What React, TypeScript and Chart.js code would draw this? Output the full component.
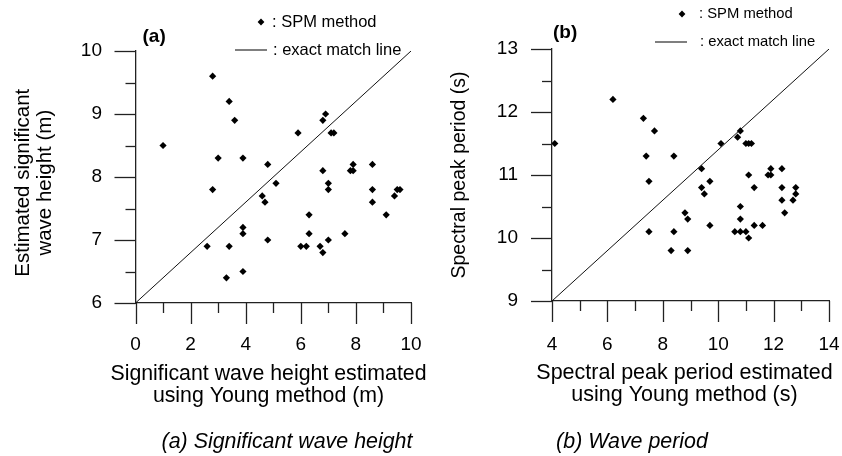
import React, { useEffect, useRef } from 'react';
import { Chart, registerables } from 'chart.js';

Chart.register(...registerables);

const FONT = '"Liberation Sans", Arial, Helvetica, sans-serif';

// Panel (a): significant wave height
const heightYoung = [1.0, 2.8, 3.4, 3.6, 3.0, 3.9, 2.8, 4.8, 5.1, 4.6, 4.7, 2.6, 3.4, 3.9, 3.9, 3.3, 3.9, 4.8, 5.9, 6.3, 6.3, 6.0, 6.2, 6.7, 6.8, 7.0, 6.8, 7.0, 7.0, 6.9, 6.8, 7.1, 7.2, 7.9, 7.8, 7.9, 8.6, 8.6, 8.6, 9.5, 9.6, 9.4, 9.1, 7.6];
const heightSPM = [8.5, 9.6, 9.2, 8.9, 8.3, 8.3, 7.8, 8.2, 7.9, 7.7, 7.6, 6.9, 6.9, 7.2, 7.1, 6.4, 6.5, 7.0, 8.7, 7.4, 7.1, 6.9, 6.9, 6.9, 6.8, 7.0, 8.1, 7.9, 7.8, 9.0, 8.9, 8.7, 8.7, 8.2, 8.1, 8.1, 8.2, 7.8, 7.6, 7.8, 7.8, 7.7, 7.4, 7.1];
const heightLineX = [0, 10];
const heightLineY = [6, 10];

// Panel (b): spectral peak period
const periodYoung = [4.1, 6.2, 7.3, 7.7, 7.4, 8.4, 7.5, 7.5, 8.4, 8.3, 8.9, 8.8, 8.9, 9.4, 9.4, 9.5, 9.7, 9.7, 10.1, 10.7, 10.8, 11.0, 11.1, 11.2, 11.1, 11.3, 10.8, 10.8, 10.6, 10.8, 11.0, 11.1, 11.3, 11.6, 11.8, 11.9, 11.9, 12.3, 12.3, 12.3, 12.4, 12.7, 12.8, 12.8];
const periodSPM = [11.5, 12.2, 11.9, 11.7, 11.3, 11.3, 10.9, 10.1, 10.1, 9.8, 9.8, 10.4, 10.3, 11.1, 10.8, 10.7, 10.9, 10.2, 11.5, 11.6, 11.7, 11.5, 11.5, 11.5, 11.0, 10.8, 10.5, 10.3, 10.1, 10.1, 10.1, 10.0, 10.2, 10.2, 11.0, 11.0, 11.1, 11.1, 10.8, 10.6, 10.4, 10.6, 10.7, 10.8];
const periodLineX = [4, 14];
const periodLineY = [9, 13];

const heightXRange = [0, 10];
const heightYRange = [6, 10];
const periodXRange = [4, 14];
const periodYRange = [9, 13];

const legendLabels = [': SPM method', ': exact match line'];

const AXIS_COLOR = '#222';

const decorPlugin = {
  id: 'decor',
  afterDraw(chart: any, _args: any, o: any) {
    const { ctx, chartArea: ca, scales } = chart;
    const xs = scales.x;
    const ys = scales.y;
    ctx.save();
    ctx.strokeStyle = AXIS_COLOR;
    ctx.lineWidth = 1.3;
    const nx = Math.round((xs.max - xs.min) / o.xMinor);
    for (let i = 0; i <= nx; i++) {
      const v = xs.min + i * o.xMinor;
      const px = Math.round(xs.getPixelForValue(v)) + 0.5;
      const len = i % o.xEvery === 0 ? 21 : 10;
      ctx.beginPath();
      ctx.moveTo(px, ca.bottom);
      ctx.lineTo(px, ca.bottom + len);
      ctx.stroke();
    }
    const ny = Math.round((ys.max - ys.min) / o.yMinor);
    for (let i = 0; i <= ny; i++) {
      const v = ys.min + i * o.yMinor;
      const py = Math.round(ys.getPixelForValue(v)) + 0.5;
      const len = i % o.yEvery === 0 ? 21 : 10;
      ctx.beginPath();
      ctx.moveTo(ca.left, py);
      ctx.lineTo(ca.left - len, py);
      ctx.stroke();
    }
    ctx.fillStyle = '#000';
    ctx.textBaseline = 'middle';
    ctx.textAlign = 'left';
    ctx.font = `bold 19px ${FONT}`;
    ctx.fillText(o.label, ca.left + o.labelDx, o.labelY);
    ctx.font = `${o.legendSize}px ${FONT}`;
    const d = 3.4;
    ctx.beginPath();
    ctx.moveTo(o.diamondX, o.row1Y - d);
    ctx.lineTo(o.diamondX + d, o.row1Y);
    ctx.lineTo(o.diamondX, o.row1Y + d);
    ctx.lineTo(o.diamondX - d, o.row1Y);
    ctx.closePath();
    ctx.fill();
    ctx.fillText(legendLabels[0], o.text1X, o.row1Y);
    ctx.strokeStyle = '#555';
    ctx.lineWidth = 1.5;
    ctx.beginPath();
    ctx.moveTo(o.lineX0, o.row2Y);
    ctx.lineTo(o.lineX1, o.row2Y);
    ctx.stroke();
    ctx.fillText(legendLabels[1], o.text2X, o.row2Y);
    // x-axis title (two lines)
    ctx.textAlign = 'center';
    ctx.font = `${o.xTitleSize}px ${FONT}`;
    o.xTitle.forEach((t: string, i: number) => {
      ctx.fillText(t, o.xTitleX, o.xTitleY + i * 22);
    });
    // caption
    ctx.font = `italic ${o.captionSize}px ${FONT}`;
    ctx.fillText(o.caption, o.captionX, o.captionY);
    ctx.restore();
  },
};

function makeConfig(p: any) {
  const pts = p.xs.map((x: number, i: number) => ({ x, y: p.ys[i] }));
  const line = p.lx.map((x: number, i: number) => ({ x, y: p.ly[i] }));
  return {
    type: 'scatter',
    data: {
      datasets: [
        {
          label: 'SPM method',
          data: pts,
          pointStyle: 'rectRot',
          pointRadius: 3.6,
          pointHoverRadius: 3.6,
          backgroundColor: '#000',
          borderColor: '#000',
          borderWidth: 0,
          order: 1,
        },
        {
          type: 'line',
          label: 'exact match line',
          data: line,
          borderColor: '#111',
          borderWidth: 1,
          pointRadius: 0,
          fill: false,
          order: 2,
        },
      ],
    },
    options: {
      responsive: false,
      animation: false,
      events: [],
      layout: { padding: { top: p.top, right: p.right, left: 0, bottom: 0 } },
      plugins: {
        legend: { display: false },
        tooltip: { enabled: false },
        title: { display: false },
        decor: p.decor,
      },
      scales: {
        x: {
          type: 'linear',
          min: p.xr[0],
          max: p.xr[1],
          afterFit: (s: any) => { s.height = p.xAxisH; s.paddingLeft = 0; s.paddingRight = 0; },
          ticks: { stepSize: 2, color: '#000', font: { family: FONT, size: 19 }, padding: p.xPad, maxRotation: 0 },
          grid: { display: true, drawOnChartArea: false, drawTicks: true, tickLength: 21, color: 'rgba(0,0,0,0)' },
          border: { display: true, color: AXIS_COLOR, width: 1.3 },
          title: { display: false },
        },
        y: {
          type: 'linear',
          min: p.yr[0],
          max: p.yr[1],
          afterFit: (s: any) => { s.width = p.yAxisW; s.paddingTop = 0; s.paddingBottom = 0; },
          ticks: { stepSize: 1, color: '#000', font: { family: FONT, size: 19 }, padding: p.yPad },
          grid: { display: true, drawOnChartArea: false, drawTicks: true, tickLength: 21, color: 'rgba(0,0,0,0)' },
          border: { display: true, color: AXIS_COLOR, width: 1.3 },
          title: {
            display: true,
            text: p.yTitle,
            color: '#000',
            font: { family: FONT, size: p.yTitleSize, lineHeight: '22px' },
            padding: { top: p.yTitlePad, bottom: 0 },
          },
        },
      },
    },
    plugins: [decorPlugin],
  };
}

const panelA = {
  xs: heightYoung, ys: heightSPM, lx: heightLineX, ly: heightLineY,
  xr: heightXRange, yr: heightYRange,
  width: 440,
  top: 51, right: 29, xAxisH: 153, yAxisW: 135.5, xPad: 9.6, yPad: 12.5, yTitlePad: 12,
  yTitleSize: 20.5,
  yTitle: ['Estimated significant  ', 'wave height (m)  '],
  decor: {
    xMinor: 1, xEvery: 2, yMinor: 0.5, yEvery: 2,
    label: '(a)', labelDx: 7, labelY: 37,
    legendSize: 16.5, diamondX: 261, row1Y: 22, text1X: 272, lineX0: 235, lineX1: 267, row2Y: 50, text2X: 273,
    xTitle: ['Significant wave height estimated', 'using Young method (m)'],
    xTitleSize: 21.3, xTitleX: 268.5, xTitleY: 374,
    caption: '(a) Significant wave height', captionSize: 21.4, captionX: 287, captionY: 442,
  },
};

const panelB = {
  xs: periodYoung, ys: periodSPM, lx: periodLineX, ly: periodLineY,
  xr: periodXRange, yr: periodYRange,
  width: 421,
  top: 49, right: 13, xAxisH: 155, yAxisW: 131, xPad: 11.6, yPad: 13, yTitlePad: 28,
  yTitleSize: 19.5,
  yTitle: 'Spectral peak period (s)',
  decor: {
    xMinor: 1, xEvery: 2, yMinor: 0.5, yEvery: 2,
    label: '(b)', labelDx: 1, labelY: 33,
    legendSize: 14.8, diamondX: 261, row1Y: 14, text1X: 278, lineX0: 234, lineX1: 266, row2Y: 42, text2X: 279,
    xTitle: ['Spectral peak period estimated', 'using Young method (s)'],
    xTitleSize: 21.5, xTitleX: 263.5, xTitleY: 373,
    caption: '(b) Wave period', captionSize: 21.4, captionX: 211, captionY: 442,
  },
};

function Panel({ cfg, left }: { cfg: any; left: number }) {
  const ref = useRef<HTMLCanvasElement | null>(null);
  useEffect(() => {
    if (!ref.current) return;
    const chart = new Chart(ref.current, makeConfig(cfg) as any);
    return () => chart.destroy();
  }, [cfg]);
  return (
    <canvas
      ref={ref}
      width={cfg.width}
      height={456}
      style={{ position: 'absolute', left, top: 0, width: cfg.width, height: 456 }}
    />
  );
}

export default function App() {
  return (
    <div style={{ position: 'absolute', left: 0, top: 0, width: 842, height: 456, background: '#fff', overflow: 'hidden' }}>
      <Panel cfg={panelA} left={0} />
      <Panel cfg={panelB} left={421} />
    </div>
  );
}
